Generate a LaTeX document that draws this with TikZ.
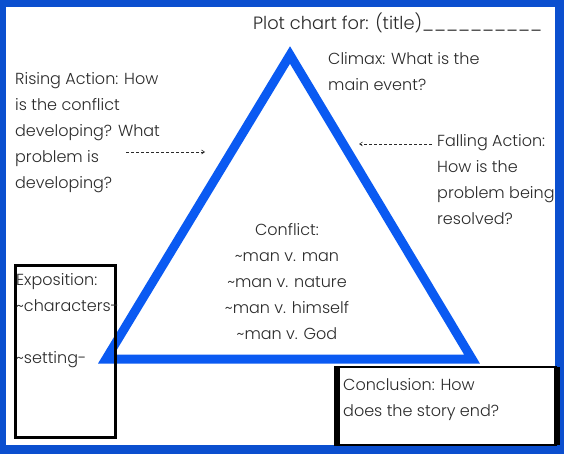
\documentclass[tikz,border=0pt]{standalone}
\usepackage{fontspec}
\setmainfont{Poppins Light}
\usetikzlibrary{arrows.meta}
\definecolor{frameblue}{HTML}{0B4FCF}
\definecolor{triblue}{HTML}{0A5AF2}
\definecolor{ink}{HTML}{2A2A2A}
\tikzset{
  txt/.style={inner sep=0pt, anchor=base west, align=left, text=ink, font=\fontsize{16}{26}\selectfont},
  ctxt/.style={txt, anchor=base, align=center},
  tri/.style={draw=triblue, line width=9pt, line join=miter},
  dasharrow/.style={draw=ink, densely dashed, line width=0.6pt, -{Straight Barb[length=3pt,width=4pt]}},
}
\begin{document}
\begin{tikzpicture}[x=1pt,y=-1pt]
\useasboundingbox (0,0) rectangle (564,454);
% frame
\fill[frameblue] (0,0) rectangle (564,454);
\fill[white] (6,7) rectangle (555,445);
% triangle
\coordinate (apex) at (290,55);
\coordinate (bl) at (106,359);
\coordinate (br) at (472,359);
\draw[tri] (apex) -- (br) -- (bl) -- cycle;
% title (anchor = baseline of last line for multi-line nodes)
\node[txt, font=\fontsize{17.8}{26}\selectfont] (title) at (253,30) {Plot chart for: (title)\_\_\_\_\_\_\_\_\_\_};
% climax
\node[txt] (climax) at (328,91) {Climax: What is the\\main event?};
% rising
\node[txt] (rising) at (15,189) {Rising Action: How\\is the conflict\\developing? What\\problem is\\developing?};
\coordinate (ra1) at (126,152);
\coordinate (ra2) at (205,152);
\draw[dasharrow] (ra1) -- (ra2);
% falling
\node[txt] (falling) at (437,225) {Falling Action:\\How is the\\problem being\\resolved?};
\coordinate (fa1) at (432,144);
\coordinate (fa2) at (359,144);
\draw[dasharrow] (fa1) -- (fa2);
% conflict
\node[ctxt] (conflict) at (287,339) {Conflict:\\\textasciitilde man v. man\\\textasciitilde man v. nature\\\textasciitilde man v. himself\\\textasciitilde man v. God};
% exposition box
\node[draw=black, line width=3.5pt, minimum width=100pt, minimum height=172pt, inner sep=0pt, anchor=north west] (expbox) at (13.5,263.5) {};
\node[txt] (exposition) at (16,363) {Exposition:\\\textasciitilde characters-\\[26pt]\textasciitilde setting-};
% conclusion box
\fill[white] (334,367) rectangle (557,445);
\draw[black, line width=1.5pt] (334,367) -- (557,367) (334,445) -- (557,445);
\draw[black, line width=6pt] (337,367) -- (337,445) (556.5,367) -- (556.5,445);
\node[txt] (conclusion) at (343,416) {Conclusion: How\\does the story end?};
\end{tikzpicture}
\end{document}
